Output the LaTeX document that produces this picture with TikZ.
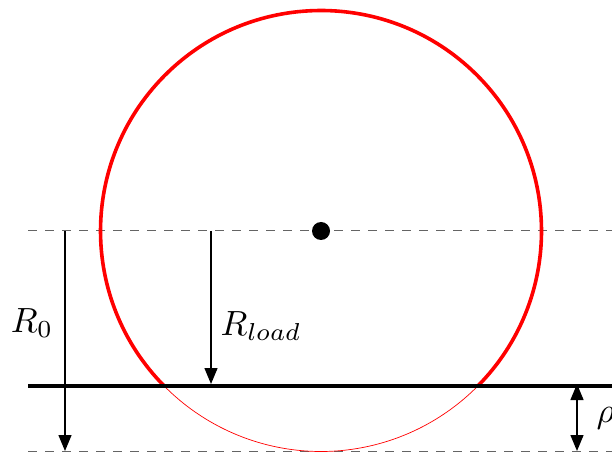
\documentclass[tikz,border=0pt]{standalone}
\usetikzlibrary{arrows.meta}
\definecolor{dashgray}{RGB}{100,100,100}
\begin{document}
\begin{tikzpicture}[x=1pt,y=1pt,
  guide/.style={dashgray,line width=1pt,dash pattern=on 9pt off 8pt},
  tip/.style={line width=1.4pt,-{Triangle[length=16pt,width=13pt]}},
  dtip/.style={line width=1.4pt,{Triangle[length=16pt,width=13pt]}-{Triangle[length=16pt,width=13pt]}},
  lbl/.style={inner sep=0pt,scale=3.5}]
\useasboundingbox (0,0) rectangle (612,455);
% key coordinates
\coordinate (c) at (321,224);
\coordinate (gl) at (28,69);
\coordinate (gr) at (620,69);
% dashed guides
\draw[guide] (28,224) -- (612,224);
\draw[guide] (28,4) -- (612,4);
% circle
\draw[red,line width=0.7pt] (c) ++(-44.66:220.5) arc[start angle=-44.66,end angle=-135.34,radius=220.5];
\draw[red,line width=3.6pt] (c) ++(-44.66:220.5) arc[start angle=-44.66,end angle=224.66,radius=220.5];
% ground
\draw[line width=4pt] (gl) -- (gr);
% center dot
\fill (c) circle[radius=9];
% arrows
\coordinate (r0a) at (65,224);
\coordinate (r0b) at (65,4);
\coordinate (rla) at (211,224);
\coordinate (rlb) at (211,71);
\coordinate (pa) at (577,71);
\coordinate (pb) at (577,4);
\draw[tip] (r0a) -- (r0b);
\draw[tip] (rla) -- (rlb);
\draw[dtip] (pa) -- (pb);
% labels
\node[lbl] (lr0) at (32,132) {$R_0$};
\node[lbl,anchor=west] (lrl) at (220,129) {$R_{load}$};
\node[lbl,anchor=west] (lrho) at (596,37) {$\rho$};
\end{tikzpicture}
\end{document}
